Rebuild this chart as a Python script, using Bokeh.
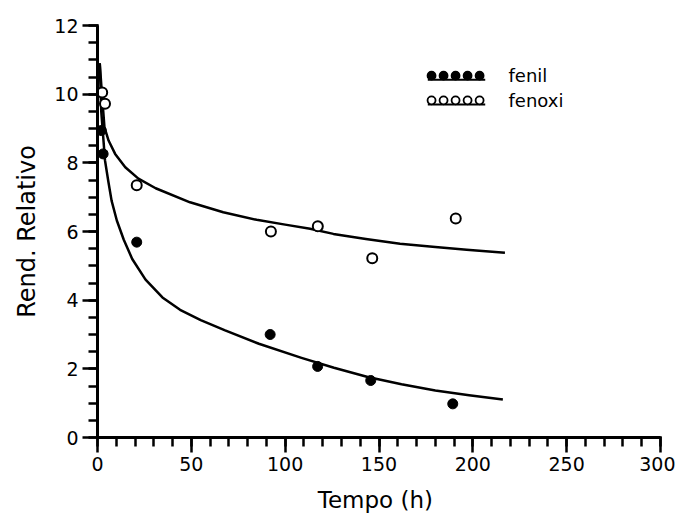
from bokeh.plotting import figure
from bokeh.models import Range1d, FixedTicker, Label
from bokeh.embed import file_html
from bokeh.resources import INLINE

# --- data ---
fenil_t = [2.0, 3.0, 20.9, 92.0, 117.3, 145.6, 189.3]
fenil_r = [8.94, 8.26, 5.69, 3.00, 2.07, 1.66, 0.98]
fenoxi_t = [2.5, 4.0, 20.9, 92.4, 117.4, 146.4, 190.9]
fenoxi_r = [10.05, 9.72, 7.35, 6.00, 6.15, 5.22, 6.38]

fit_fenoxi_t = [1.2, 2.5, 3.7, 5.9, 9.4, 14.8, 21.8, 31.0, 49.3, 67.0, 84.8, 100.0,
                113.3, 125.7, 143.0, 161.2, 180.0, 196.7, 217.1]
fit_fenoxi_r = [10.9, 9.9, 9.04, 8.65, 8.26, 7.87, 7.54, 7.26, 6.85, 6.56, 6.34, 6.2,
                6.08, 5.93, 5.78, 5.64, 5.55, 5.47, 5.38]
fit_fenil_t = [1.2, 2.0, 4.0, 5.8, 7.5, 10.3, 14.0, 18.5, 25.6, 34.6, 44.0, 55.0, 68.0,
               86.0, 108.7, 126.0, 144.0, 162.0, 180.0, 198.0, 216.0]
fit_fenil_r = [10.9, 9.5, 8.07, 7.45, 6.9, 6.32, 5.76, 5.2, 4.6, 4.08, 3.72, 3.42, 3.12,
               2.73, 2.32, 2.03, 1.76, 1.55, 1.37, 1.23, 1.11]

x_major = [0, 50, 100, 150, 200, 250, 300]
x_minor = list(range(0, 301, 10))
y_major = [0, 2, 4, 6, 8, 10, 12]
y_minor = [v / 2 for v in range(0, 25)]

labels = ["fenil", "fenoxi"]

FONT = "DejaVu Sans"

p = figure(width=675, height=515, output_backend="svg", toolbar_location=None,
           x_range=Range1d(0, 300), y_range=Range1d(0, 12),
           min_border_left=97, min_border_right=15, min_border_top=25, min_border_bottom=78)
p.outline_line_color = None
p.grid.visible = False
p.background_fill_color = "white"

for ax in (p.xaxis[0], p.yaxis[0]):
    ax.axis_line_width = 3
    ax.axis_line_color = "black"
    ax.major_tick_in = 1
    ax.minor_tick_in = 1
    ax.major_tick_out = 15
    ax.minor_tick_out = 9
    ax.major_tick_line_width = 2.5
    ax.minor_tick_line_width = 2.5
    ax.major_tick_line_color = "black"
    ax.minor_tick_line_color = "black"
    ax.major_label_text_font = FONT
    ax.major_label_text_font_size = "19px"
    ax.major_label_text_color = "black"
    ax.axis_label_text_font = FONT
    ax.axis_label_text_font_style = "normal"
    ax.axis_label_text_color = "black"

p.xaxis.axis_label_text_font_size = "23px"
p.yaxis.axis_label_text_font_size = "24px"
p.xaxis.ticker = FixedTicker(ticks=x_major, minor_ticks=x_minor)
p.yaxis.ticker = FixedTicker(ticks=y_major, minor_ticks=y_minor)
p.xaxis.axis_label = "Tempo  (h)"
p.yaxis.axis_label = "Rend. Relativo"
p.xaxis.major_label_standoff = 4
p.yaxis.major_label_standoff = 4
p.xaxis.axis_label_standoff = 13
p.yaxis.axis_label_standoff = 10

# fitted curves
p.line(fit_fenoxi_t, fit_fenoxi_r, line_color="black", line_width=2.5, line_join="round")
p.line(fit_fenil_t, fit_fenil_r, line_color="black", line_width=2.5, line_join="round")

# points
p.scatter(fenil_t, fenil_r, size=10, marker="circle", fill_color="black", line_color="black")
p.scatter(fenoxi_t, fenoxi_r, size=10, marker="circle", fill_color="white", line_color="black", line_width=2)

# legend drawn manually (positions in data units)
lx0, lstep = 178.0, 6.4
for lab, yrow, filled in [(labels[0], 10.54, True), (labels[1], 9.82, False)]:
    xs = [lx0 + k * lstep for k in range(5)]
    p.line([lx0 - 2, xs[-1] + 3], [yrow - 0.12, yrow - 0.12], line_color="black", line_width=2)
    p.scatter(xs, [yrow] * 5, size=8, marker="circle",
              fill_color="black" if filled else "white", line_color="black", line_width=1.8)
    p.add_layout(Label(x=219, y=yrow, text=lab, text_font=FONT, text_font_size="18px",
                       text_baseline="middle", text_color="black"))

open("out.html", "w").write(file_html(p, INLINE))
